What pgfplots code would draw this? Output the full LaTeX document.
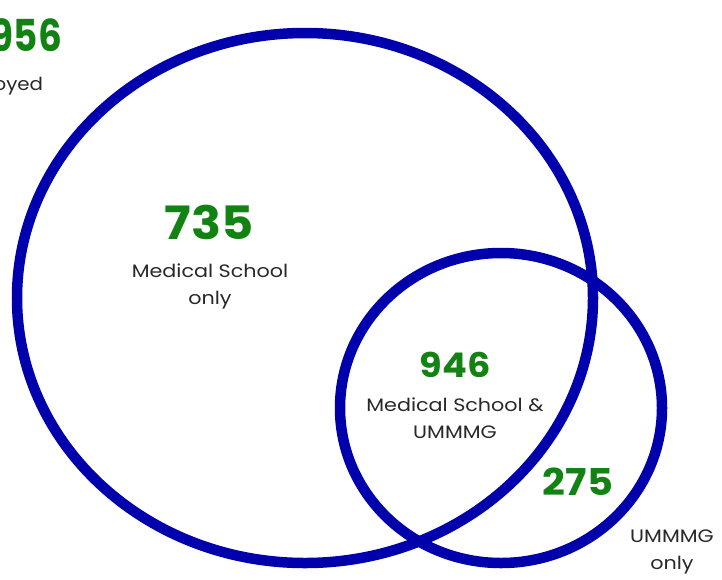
\documentclass[border=0pt]{standalone}
\usepackage{fontspec}
\setmainfont{Poppins}
\usepackage{pgfplots}
\pgfplotsset{compat=1.18}
\definecolor{vblue}{RGB}{0,0,172}
\definecolor{vgreen}{RGB}{18,130,18}
\definecolor{vgray}{RGB}{40,40,40}
\begin{document}
\begin{tikzpicture}
\useasboundingbox (0,0) rectangle (722pt,579pt);
\clip (0,0) rectangle (722pt,579pt);
\begin{axis}[at={(0,0)},anchor=south west,scale only axis,width=722pt,height=579pt,
  xmin=0,xmax=722,ymin=0,ymax=579,y dir=reverse,hide axis,clip=false]
% big circle: Medical School ; small circle: UMMMG
\draw[vblue,line width=10.5pt] (axis cs:305,298) ellipse [x radius=288, y radius=265];
\draw[vblue,line width=10.5pt] (axis cs:501,408) ellipse [x radius=161, y radius=155];
\node[vgreen,font=\fontsize{44}{44}\selectfont\bfseries,anchor=east,xscale=0.85] at (axis cs:65,38) {1,956};
\node[vgray,font=\fontsize{18}{18}\selectfont,anchor=east,xscale=1.1] at (axis cs:47,86) {Employed};
\node[vgreen,font=\fontsize{46}{46}\selectfont\bfseries,xscale=1.08] at (axis cs:209,222) {735};
\node[vgray,font=\fontsize{18}{27}\selectfont,align=center,xscale=1.15] at (axis cs:210,286) {Medical School\\only};
\node[vgreen,font=\fontsize{34}{34}\selectfont\bfseries,xscale=1.08] at (axis cs:455,365) {946};
\node[vgray,font=\fontsize{18}{27}\selectfont,align=center,xscale=1.15] at (axis cs:455,418) {Medical School \&\\UMMMG};
\node[vgreen,font=\fontsize{37}{37}\selectfont\bfseries,xscale=1.08] at (axis cs:578,482) {275};
\node[vgray,font=\fontsize{18}{27}\selectfont,align=center,xscale=1.15] at (axis cs:672,552) {UMMMG\\only};
\end{axis}
\end{tikzpicture}
\end{document}
